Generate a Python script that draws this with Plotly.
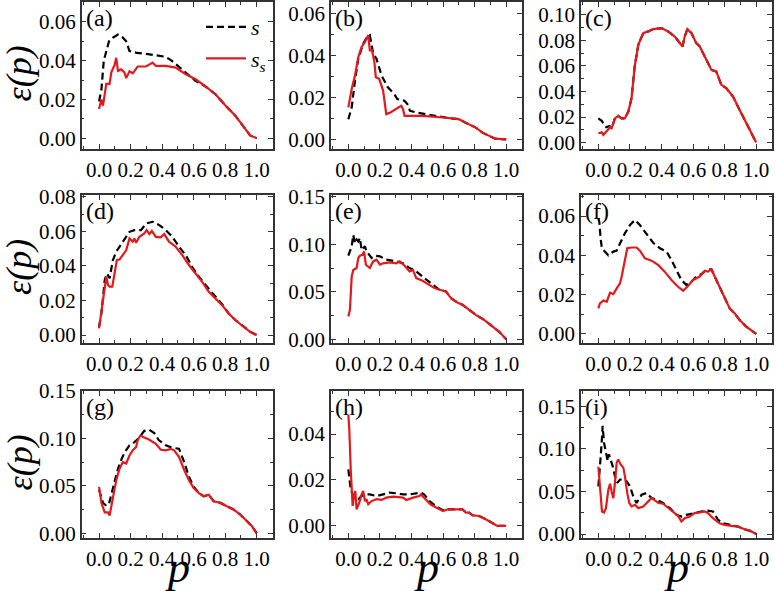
import plotly.graph_objects as go

# ---------------- data ----------------
# panel (a)
PA_S = [0.0, 0.015, 0.03, 0.063, 0.09, 0.12, 0.15, 0.172, 0.193, 0.24, 0.3, 0.34, 0.38, 0.423, 0.46, 0.49, 0.55, 0.612, 0.675, 0.738, 0.8, 0.864, 0.927, 0.958, 1.0]
EA_S = [0.019, 0.025, 0.04, 0.05, 0.052, 0.0535, 0.052, 0.05, 0.045, 0.044, 0.0435, 0.043, 0.0425, 0.042, 0.04, 0.038, 0.034, 0.0296, 0.0267, 0.0227, 0.017, 0.0116, 0.0048, 0.0014, 0.0]
PA_SS = [0.0, 0.015, 0.025, 0.046, 0.067, 0.078, 0.099, 0.109, 0.12, 0.14, 0.161, 0.172, 0.193, 0.214, 0.245, 0.298, 0.34, 0.36, 0.423, 0.486, 0.55, 0.612, 0.675, 0.738, 0.8, 0.864, 0.927, 0.958, 1.0]
EA_SS = [0.015, 0.020, 0.0168, 0.028, 0.028, 0.034, 0.038, 0.0415, 0.0347, 0.0355, 0.034, 0.031, 0.0345, 0.0335, 0.037, 0.037, 0.039, 0.0373, 0.0373, 0.0364, 0.033, 0.0304, 0.0267, 0.0227, 0.017, 0.0116, 0.0048, 0.0014, 0.0]

# panel (b)
PB_S = [0.0, 0.021, 0.042, 0.063, 0.094, 0.12, 0.136, 0.157, 0.178, 0.21, 0.25, 0.29, 0.31, 0.355, 0.374, 0.39, 0.43, 0.48, 0.55, 0.65, 0.70, 0.74, 0.807, 0.85, 0.9, 0.93, 1.0]
EB_S = [0.0096, 0.0152, 0.028, 0.0384, 0.0456, 0.049, 0.0496, 0.0408, 0.0384, 0.0304, 0.0248, 0.0216, 0.0192, 0.0184, 0.0168, 0.0136, 0.0128, 0.012, 0.0112, 0.010, 0.0096, 0.008, 0.0056, 0.0032, 0.0016, 0.0003, 0.0]
PB_SS = [0.0, 0.021, 0.042, 0.063, 0.084, 0.105, 0.126, 0.136, 0.15, 0.165, 0.174, 0.195, 0.22, 0.24, 0.266, 0.304, 0.335, 0.346, 0.356, 0.388, 0.47, 0.6, 0.70, 0.74, 0.807, 0.85, 0.9, 0.93, 1.0]
EB_SS = [0.0152, 0.024, 0.0304, 0.0392, 0.044, 0.0464, 0.0496, 0.0424, 0.0424, 0.0368, 0.0296, 0.0288, 0.0232, 0.012, 0.0128, 0.0144, 0.016, 0.0144, 0.0112, 0.0112, 0.0112, 0.0104, 0.0096, 0.008, 0.0056, 0.0032, 0.0016, 0.0003, 0.0]

# panel (c)
PC_SS = [0.0, 0.021, 0.032, 0.053, 0.074, 0.084, 0.105, 0.126, 0.147, 0.168, 0.19, 0.21, 0.23, 0.253, 0.284, 0.316, 0.347, 0.4, 0.442, 0.484, 0.516, 0.533, 0.547, 0.564, 0.59, 0.62, 0.642, 0.684, 0.716, 0.747, 0.779, 0.81, 0.853, 0.895, 0.937, 0.968, 1.0]
EC_SS = [0.0073, 0.008, 0.006, 0.0086, 0.012, 0.0112, 0.019, 0.0209, 0.019, 0.019, 0.0243, 0.0347, 0.0595, 0.0765, 0.0856, 0.087, 0.0888, 0.0896, 0.087, 0.083, 0.0778, 0.0752, 0.083, 0.0888, 0.0856, 0.0778, 0.0752, 0.0648, 0.0569, 0.0556, 0.0452, 0.0426, 0.036, 0.0256, 0.0151, 0.0073, 0.0]
PC_S = [0.0, 0.021, 0.05, 0.07, 0.084, 0.105, 0.126, 0.147, 0.168, 0.19, 0.21, 0.23, 0.253, 0.284, 0.316, 0.347, 0.4, 0.442, 0.484, 0.516, 0.533, 0.547, 0.564, 0.59, 0.62, 0.642, 0.684, 0.716, 0.747, 0.779, 0.81, 0.853, 0.895, 0.937, 0.968, 1.0]
EC_S = [0.019, 0.017, 0.012, 0.013, 0.0112, 0.019, 0.0209, 0.019, 0.019, 0.0243, 0.0347, 0.0595, 0.0765, 0.0856, 0.087, 0.0888, 0.0896, 0.087, 0.083, 0.0778, 0.0752, 0.083, 0.0888, 0.0856, 0.0778, 0.0752, 0.0648, 0.0569, 0.0556, 0.0452, 0.0426, 0.036, 0.0256, 0.0151, 0.0073, 0.0]

# panel (d)
PD_S = [0.0, 0.015, 0.036, 0.05, 0.067, 0.088, 0.109, 0.13, 0.16, 0.193, 0.224, 0.266, 0.298, 0.34, 0.382, 0.423, 0.465, 0.507, 0.55, 0.59, 0.633, 0.675, 0.717, 0.78, 0.822, 0.864, 0.916, 0.958, 1.0]
ED_S = [0.0048, 0.0125, 0.0318, 0.0356, 0.0328, 0.0434, 0.0482, 0.051, 0.055, 0.0597, 0.0607, 0.0607, 0.0645, 0.0655, 0.0636, 0.0607, 0.0568, 0.0511, 0.0462, 0.0395, 0.0337, 0.0289, 0.0245, 0.0179, 0.0125, 0.0087, 0.0048, 0.0019, 0.0]
PD_SS = [0.0, 0.008, 0.021, 0.036, 0.046, 0.057, 0.067, 0.084, 0.1, 0.113, 0.13, 0.151, 0.172, 0.193, 0.214, 0.224, 0.235, 0.256, 0.287, 0.302, 0.319, 0.335, 0.36, 0.392, 0.413, 0.444, 0.486, 0.528, 0.57, 0.612, 0.654, 0.696, 0.738, 0.78, 0.822, 0.864, 0.916, 0.958, 1.0]
ED_SS = [0.0039, 0.0087, 0.0173, 0.025, 0.0337, 0.029, 0.028, 0.028, 0.0376, 0.0434, 0.0437, 0.0462, 0.049, 0.0559, 0.054, 0.0559, 0.0534, 0.0568, 0.0588, 0.0607, 0.0584, 0.0603, 0.0568, 0.0565, 0.0584, 0.054, 0.0511, 0.0462, 0.0405, 0.0356, 0.0308, 0.025, 0.0212, 0.0173, 0.0125, 0.0087, 0.0048, 0.0019, 0.0]

# panel (e)
PE_S = [0.0, 0.01, 0.021, 0.031, 0.042, 0.052, 0.063, 0.073, 0.084, 0.105, 0.115, 0.147, 0.168, 0.2, 0.24, 0.304, 0.346, 0.388, 0.43, 0.482, 0.535, 0.577, 0.618, 0.65, 0.69, 0.723, 0.765, 0.807, 0.86, 0.912, 0.954, 1.0]
EE_S = [0.088, 0.0926, 0.098, 0.11, 0.101, 0.105, 0.103, 0.1067, 0.094, 0.098, 0.0926, 0.0856, 0.088, 0.0873, 0.0838, 0.082, 0.080, 0.075, 0.0715, 0.0644, 0.0574, 0.0521, 0.0504, 0.0433, 0.0387, 0.0363, 0.031, 0.0257, 0.0204, 0.0134, 0.0081, 0.0]
PE_SS = [0.0, 0.01, 0.021, 0.031, 0.052, 0.063, 0.073, 0.09, 0.099, 0.111, 0.136, 0.157, 0.178, 0.2, 0.22, 0.262, 0.304, 0.325, 0.356, 0.388, 0.409, 0.43, 0.47, 0.514, 0.545, 0.577, 0.618, 0.65, 0.69, 0.723, 0.765, 0.807, 0.86, 0.912, 0.954, 1.0]
EE_SS = [0.024, 0.031, 0.066, 0.073, 0.075, 0.0856, 0.088, 0.089, 0.0926, 0.0785, 0.075, 0.082, 0.0838, 0.0785, 0.080, 0.081, 0.080, 0.082, 0.0775, 0.0715, 0.073, 0.0644, 0.0616, 0.0574, 0.0539, 0.0521, 0.0504, 0.0433, 0.0387, 0.0363, 0.031, 0.0257, 0.0204, 0.0134, 0.0081, 0.0]

# panel (f)
PF_S = [0.0, 0.006, 0.015, 0.021, 0.032, 0.063, 0.095, 0.116, 0.137, 0.168, 0.2, 0.232, 0.263, 0.305, 0.347, 0.39, 0.432, 0.463, 0.495, 0.526, 0.558, 0.59, 0.62, 0.653, 0.684, 0.716, 0.737, 0.768, 0.8, 0.832, 0.863, 0.895, 0.937, 0.968, 1.0]
EF_S = [0.059, 0.057, 0.048, 0.0444, 0.0427, 0.040, 0.0419, 0.0424, 0.046, 0.0512, 0.0554, 0.058, 0.0554, 0.0512, 0.0464, 0.0436, 0.0419, 0.0376, 0.0325, 0.0275, 0.0249, 0.0266, 0.0292, 0.0305, 0.0325, 0.0329, 0.0292, 0.024, 0.018, 0.013, 0.0105, 0.0071, 0.0037, 0.0017, 0.0]
PF_SS = [0.0, 0.01, 0.032, 0.053, 0.074, 0.095, 0.116, 0.137, 0.147, 0.158, 0.168, 0.183, 0.21, 0.242, 0.263, 0.295, 0.337, 0.38, 0.42, 0.463, 0.505, 0.537, 0.568, 0.6, 0.642, 0.674, 0.695, 0.716, 0.737, 0.768, 0.8, 0.832, 0.863, 0.895, 0.937, 0.968, 1.0]
EF_SS = [0.013, 0.0156, 0.017, 0.0164, 0.021, 0.0203, 0.0232, 0.0258, 0.029, 0.034, 0.0385, 0.0436, 0.044, 0.044, 0.0424, 0.0385, 0.0373, 0.035, 0.0317, 0.0275, 0.024, 0.022, 0.0244, 0.0275, 0.0292, 0.0322, 0.0317, 0.0329, 0.0292, 0.024, 0.018, 0.013, 0.0105, 0.0071, 0.0037, 0.0017, 0.0]

# panel (g)
PG_S = [0.0, 0.025, 0.046, 0.063, 0.078, 0.099, 0.12, 0.14, 0.161, 0.193, 0.224, 0.256, 0.287, 0.319, 0.35, 0.38, 0.423, 0.465, 0.507, 0.54, 0.57, 0.6, 0.633, 0.664, 0.696, 0.727, 0.77, 0.81, 0.853, 0.895, 0.937, 0.969, 1.0]
EG_S = [0.0458, 0.032, 0.029, 0.031, 0.041, 0.056, 0.068, 0.077, 0.085, 0.0927, 0.096, 0.101, 0.108, 0.109, 0.1056, 0.098, 0.0927, 0.090, 0.0892, 0.075, 0.0597, 0.049, 0.0424, 0.039, 0.0406, 0.0337, 0.032, 0.0285, 0.025, 0.0198, 0.0128, 0.0076, 0.0]
PG_SS = [0.0, 0.015, 0.036, 0.057, 0.067, 0.088, 0.109, 0.13, 0.151, 0.172, 0.193, 0.214, 0.235, 0.245, 0.262, 0.287, 0.319, 0.36, 0.392, 0.423, 0.455, 0.476, 0.507, 0.54, 0.57, 0.6, 0.633, 0.664, 0.696, 0.727, 0.77, 0.81, 0.853, 0.895, 0.937, 0.969, 1.0]
EG_SS = [0.049, 0.032, 0.022, 0.022, 0.0188, 0.039, 0.056, 0.068, 0.075, 0.0736, 0.082, 0.0875, 0.091, 0.098, 0.103, 0.101, 0.0986, 0.0944, 0.088, 0.0875, 0.089, 0.0875, 0.0806, 0.0667, 0.056, 0.0476, 0.0424, 0.039, 0.0406, 0.0337, 0.032, 0.0285, 0.025, 0.0198, 0.0128, 0.0076, 0.0]

# panel (h)
PH_S = [0.0, 0.006, 0.015, 0.027, 0.042, 0.063, 0.084, 0.105, 0.136, 0.178, 0.22, 0.262, 0.304, 0.346, 0.388, 0.43, 0.46, 0.48, 0.514, 0.566, 0.6, 0.63, 0.723, 0.744, 0.765, 0.786, 0.828, 0.87, 0.912, 0.943, 1.0]
EH_S = [0.0246, 0.0217, 0.0159, 0.0137, 0.0123, 0.0116, 0.013, 0.0137, 0.0137, 0.013, 0.0137, 0.0145, 0.0142, 0.0137, 0.0137, 0.0142, 0.0145, 0.0137, 0.0108, 0.008, 0.0068, 0.0072, 0.0072, 0.0058, 0.0058, 0.0046, 0.0043, 0.0029, 0.0014, 0.0, 0.0]
PH_SS = [0.0, 0.006, 0.015, 0.021, 0.027, 0.036, 0.044, 0.052, 0.069, 0.084, 0.094, 0.105, 0.115, 0.126, 0.147, 0.178, 0.21, 0.24, 0.283, 0.346, 0.367, 0.41, 0.45, 0.46, 0.48, 0.5, 0.52, 0.556, 0.6, 0.63, 0.723, 0.744, 0.765, 0.786, 0.828, 0.87, 0.912, 0.943, 1.0]
EH_SS = [0.0484, 0.042, 0.0246, 0.0116, 0.0087, 0.013, 0.0152, 0.0072, 0.0101, 0.0137, 0.0152, 0.0108, 0.0116, 0.0094, 0.0108, 0.0116, 0.0113, 0.0123, 0.0127, 0.0123, 0.0113, 0.0123, 0.013, 0.0137, 0.0123, 0.0108, 0.0094, 0.008, 0.0065, 0.0072, 0.0072, 0.0058, 0.0058, 0.0046, 0.0043, 0.0029, 0.0014, 0.0, 0.0]

# panel (i)
PI_S = [0.0, 0.006, 0.015, 0.023, 0.027, 0.036, 0.048, 0.059, 0.067, 0.078, 0.09, 0.105, 0.12, 0.137, 0.158, 0.179, 0.2, 0.221, 0.242, 0.274, 0.305, 0.337, 0.368, 0.41, 0.453, 0.495, 0.526, 0.558, 0.6, 0.642, 0.684, 0.726, 0.758, 0.79, 0.832, 0.884, 0.926, 0.958, 0.99, 1.0]
EI_S = [0.056, 0.0759, 0.0917, 0.113, 0.127, 0.107, 0.0976, 0.0857, 0.0937, 0.0877, 0.080, 0.068, 0.060, 0.064, 0.064, 0.062, 0.056, 0.0443, 0.0364, 0.0462, 0.0482, 0.0423, 0.0403, 0.0364, 0.0304, 0.0225, 0.0205, 0.0225, 0.0245, 0.0265, 0.0277, 0.0265, 0.0166, 0.0126, 0.0107, 0.0087, 0.0055, 0.004, 0.0008, 0.0]
PI_SS = [0.0, 0.006, 0.015, 0.023, 0.036, 0.048, 0.063, 0.074, 0.084, 0.095, 0.105, 0.116, 0.126, 0.141, 0.158, 0.168, 0.183, 0.196, 0.21, 0.232, 0.253, 0.284, 0.316, 0.337, 0.358, 0.38, 0.41, 0.442, 0.474, 0.505, 0.526, 0.547, 0.579, 0.61, 0.642, 0.674, 0.695, 0.726, 0.768, 0.8, 0.842, 0.884, 0.926, 0.958, 0.99, 1.0]
EI_SS = [0.079, 0.064, 0.036, 0.0265, 0.0253, 0.0304, 0.052, 0.059, 0.050, 0.042, 0.060, 0.0838, 0.0877, 0.0818, 0.078, 0.068, 0.048, 0.0364, 0.0324, 0.0344, 0.0304, 0.0324, 0.0383, 0.0423, 0.0395, 0.0364, 0.0356, 0.0304, 0.0253, 0.0213, 0.0146, 0.0186, 0.0205, 0.0245, 0.0253, 0.0265, 0.0245, 0.0186, 0.0126, 0.0107, 0.0095, 0.0087, 0.0055, 0.004, 0.0008, 0.0]

PANEL_LABELS = ["(a)", "(b)", "(c)", "(d)", "(e)", "(f)", "(g)", "(h)", "(i)"]
Y_RANGES = [[-0.0056, 0.0703], [-0.0046, 0.0654], [-0.005, 0.110],
            [-0.0046, 0.081], [-0.004, 0.152], [-0.0046, 0.0707],
            [-0.005, 0.150], [-0.0053, 0.0588], [-0.0047, 0.168]]
Y_DTICKS = [0.02, 0.02, 0.02, 0.02, 0.05, 0.02, 0.05, 0.02, 0.05]
Y_FORMAT = ".2f"
X_TICKS = [0.0, 0.2, 0.4, 0.6, 0.8, 1.0]
X_RANGE = [-0.11, 1.1]

SERIES_S = [(PA_S, EA_S), (PB_S, EB_S), (PC_S, EC_S), (PD_S, ED_S), (PE_S, EE_S),
            (PF_S, EF_S), (PG_S, EG_S), (PH_S, EH_S), (PI_S, EI_S)]
SERIES_SS = [(PA_SS, EA_SS), (PB_SS, EB_SS), (PC_SS, EC_SS), (PD_SS, ED_SS), (PE_SS, EE_SS),
             (PF_SS, EF_SS), (PG_SS, EG_SS), (PH_SS, EH_SS), (PI_SS, EI_SS)]

# ---------------- layout geometry ----------------
W, H = 776, 591
COLS = [(81.7, 272.5), (331, 522), (581, 772)]
ROWS = [(2, 149), (195, 343), (391, 538)]

FONT = "Liberation Serif, Times New Roman, serif"
RED = "#e3191c"

fig = go.Figure()
layout = dict(width=W, height=H, margin=dict(l=0, r=0, t=0, b=0, autoexpand=False),
              paper_bgcolor="white", plot_bgcolor="white", showlegend=True)

annotations = []
for i in range(9):
    r, c = divmod(i, 3)
    n = "" if i == 0 else str(i + 1)
    xa, ya = "x" + n, "y" + n
    x0, x1 = COLS[c]
    y0, y1 = ROWS[r]
    axis_common = dict(showline=True, mirror="ticks", linecolor="#333333", linewidth=1.5,
                       ticks="inside", ticklen=5, tickwidth=1.2, tickcolor="#333333",
                       showgrid=False, zeroline=False, automargin=False,
                       tickfont=dict(family=FONT, size=21, color="black"))
    layout["xaxis" + n] = dict(domain=[x0 / W, x1 / W], range=X_RANGE, anchor=ya,
                               tickvals=X_TICKS, tickformat=".1f", ticklabelstandoff=1,
                               minor=dict(dtick=0.1, tick0=0, ticks="inside", ticklen=3,
                                          tickcolor="#333333"),
                               **axis_common)
    layout["yaxis" + n] = dict(domain=[1 - y1 / H, 1 - y0 / H], range=Y_RANGES[i], anchor=xa,
                               tick0=0, dtick=Y_DTICKS[i], tickformat=Y_FORMAT,
                               minor=dict(dtick=Y_DTICKS[i] / 2, tick0=0, ticks="inside",
                                          ticklen=3, tickcolor="#333333"),
                               **axis_common)
    ps, es = SERIES_S[i]
    pss, ess = SERIES_SS[i]
    fig.add_trace(go.Scatter(x=ps, y=es, xaxis=xa, yaxis=ya, mode="lines",
                             line=dict(color="black", width=2.2, dash="7px,4px"),
                             name="<i>s</i>", showlegend=(i == 0), legendrank=1))
    fig.add_trace(go.Scatter(x=pss, y=ess, xaxis=xa, yaxis=ya, mode="lines",
                             line=dict(color=RED, width=2.2),
                             name="<i>s<sub>s</sub></i>", showlegend=(i == 0), legendrank=2))
    annotations.append(dict(text=PANEL_LABELS[i], xref="paper", yref="paper",
                            x=(x0 + 2) / W, y=1 - (y0 + 1) / H, xanchor="left", yanchor="top",
                            showarrow=False, font=dict(family=FONT, size=24, color="black")))

for r in range(3):
    y0, y1 = ROWS[r]
    annotations.append(dict(text="<i>ε(p)</i>", xref="paper", yref="paper",
                            x=19 / W, y=1 - ((y0 + y1) / 2 - 2) / H, textangle=-90,
                            xanchor="center", yanchor="middle", showarrow=False,
                            font=dict(family=FONT, size=36, color="black")))
for c in range(3):
    x0, x1 = COLS[c]
    annotations.append(dict(text="<i>p</i>", xref="paper", yref="paper",
                            x=(x0 + x1) / 2 / W, y=1 - 567 / H,
                            xanchor="center", yanchor="middle", showarrow=False,
                            font=dict(family=FONT, size=44, color="black")))

layout["annotations"] = annotations
layout["legend"] = dict(x=201 / W, y=1 - 6 / H, xanchor="left", yanchor="top",
                        bgcolor="rgba(0,0,0,0)", borderwidth=0, tracegroupgap=0,
                        font=dict(family=FONT, size=22, color="black"),
                        itemwidth=40)
fig.update_layout(**layout)
fig.write_html("out.html", config={"displayModeBar": False},
               post_script="document.body.style.margin='0';document.body.style.overflow='hidden';")
